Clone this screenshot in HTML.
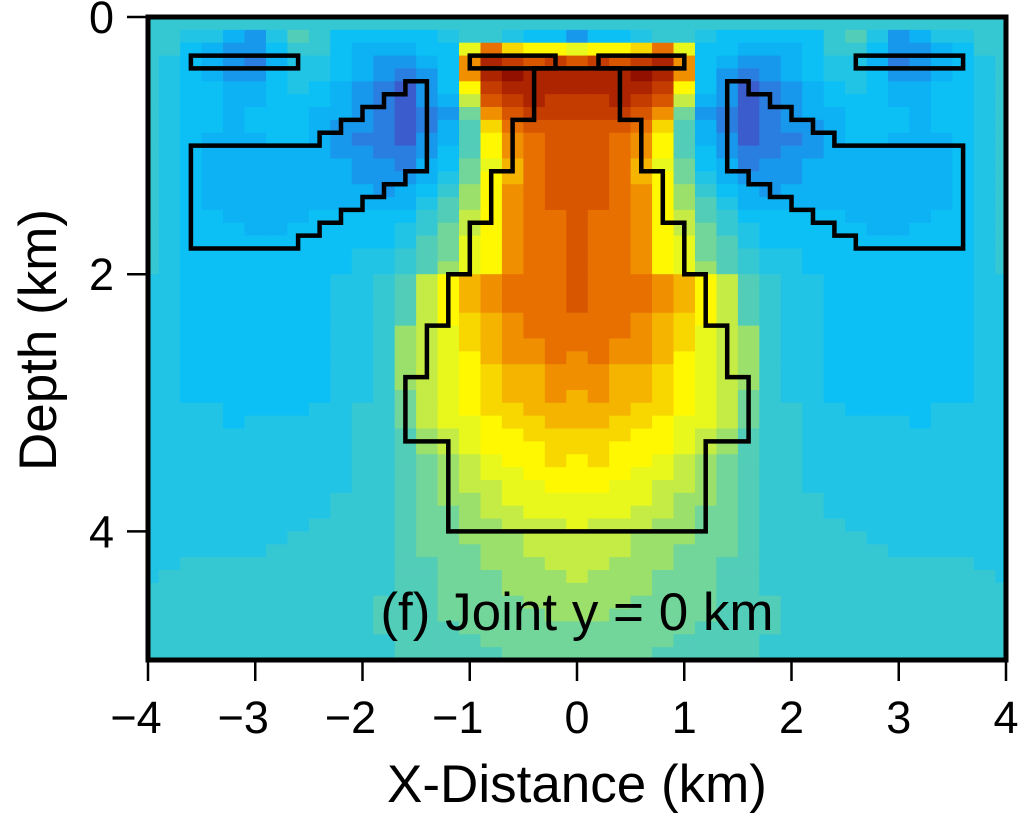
<!DOCTYPE html>
<html><head><meta charset="utf-8">
<style>
html,body{margin:0;padding:0;background:#fff;width:1018px;height:826px;overflow:hidden}
svg text{font-family:"Liberation Sans",Arial,sans-serif;fill:#000}
</style></head>
<body>
<svg id="chart" width="1018" height="826" viewBox="0 0 1018 826" xmlns="http://www.w3.org/2000/svg">
<defs><clipPath id="plotclip"><rect x="148" y="17" width="858" height="643"/></clipPath></defs>
<g id="cells" clip-path="url(#plotclip)"></g>
<g id="outlines" clip-path="url(#plotclip)"></g>
<rect x="148" y="17" width="858" height="643" fill="none" stroke="#000" stroke-width="5"/>
<g id="axes"></g>
<text x="577" y="630" font-size="53" text-anchor="middle">(f) Joint y = 0 km</text>
<text x="577" y="802" font-size="53" text-anchor="middle">X-Distance (km)</text>
<text transform="translate(56,340) rotate(-90)" font-size="53" text-anchor="middle">Depth (km)</text>
</svg>
<script>
// ---- data ----
const xTicks = [-4,-3,-2,-1,0,1,2,3,4];
const yTicks = [0,2,4];
const colCenters = [-4,-3.8,-3.6,-3.4,-3.2,-3,-2.8,-2.6,-2.4,-2.2,-2,-1.8,-1.6,-1.4,-1.2,-1,-0.8,-0.6,-0.4,-0.2,0];
const rowDepthStep = 0.1;
// left half of symmetric section (x=-4..0), one string per 0.1 km depth row; chars are colour levels
const fieldRows = [
"666666666666666666666",
"665532576444445665442",
"664322466433344bgdccb",
"654321355432234fjihih",
"654322455432124fjkjjj",
"654433454321024cijjjj",
"654433444321023ahijii",
"6544344433210128fhiii",
"6544344432210137dghhh",
"6543334432110237cfghh",
"6543333332211247cfghh",
"6543333333221348beghh",
"6543333333222358ceghh",
"6543333333323469cfghh",
"6543333333333579cfghh",
"654433334444467acfggh",
"654443344444568acfggh",
"654444444444578bcfggh",
"654444444455678bcfggh",
"654444444455679bcfggh",
"5544444445567acefgggh",
"5544444445567acefgggh",
"5544444445567acefgggh",
"5544444445567acdefggg",
"5544444445569abdefggg",
"5544444445569abdeffgg",
"5544444445569abceffgf",
"5544444445569abcdeeff",
"5544444445569abcdeeff",
"5544444445568abcdeefe",
"5555444455668abcddeee",
"5555455555668abbcddee",
"55555555556679abccddd",
"55555555556679abcccdd",
"555555555566789abccdc",
"555555555566789abbccc",
"555555555566789aabbcc",
"5555555556667899abbbb",
"5555555556667889aabbb",
"55555555666678899aaab",
"555555566666788999aaa",
"555555666666788899aaa",
"5566666666667788999aa",
"56666666666677888999a",
"666666666666778889999",
"666666666667778888999",
"666666666667778888899",
"666666666667777888888",
"666666666666777788888",
"666666666666777778888"
];
const levelColors = {
"0":"#3a5ccc","1":"#2a7ee0","2":"#1898ec","3":"#0cb2f4","4":"#0cc0f6","5":"#22c4e6","6":"#36c8d2",
"7":"#52cdb8","8":"#72d59a","9":"#9ce06c","a":"#c4ec44","b":"#e8f81c","c":"#fff800","d":"#f8d600",
"e":"#f4b400","f":"#f09000","g":"#e87000","h":"#d85600","i":"#c43c00","j":"#ac2400","k":"#921000"
};
// outline polygons (x km, depth km)
const centralBody = [[-0.4,0.4],[-0.4,0.8],[-0.6,0.8],[-0.6,1.2],[-0.8,1.2],[-0.8,1.6],[-1.0,1.6],[-1.0,2.0],[-1.2,2.0],[-1.2,2.4],[-1.4,2.4],[-1.4,2.8],[-1.6,2.8],[-1.6,3.3],[-1.2,3.3],[-1.2,4.0],[1.2,4.0],[1.2,3.3],[1.6,3.3],[1.6,2.8],[1.4,2.8],[1.4,2.4],[1.2,2.4],[1.2,2.0],[1.0,2.0],[1.0,1.6],[0.8,1.6],[0.8,1.2],[0.6,1.2],[0.6,0.8],[0.4,0.8],[0.4,0.4]];
const leftWing = [[-3.6,1.0],[-2.4,1.0],[-2.4,0.9],[-2.2,0.9],[-2.2,0.8],[-2.0,0.8],[-2.0,0.7],[-1.8,0.7],[-1.8,0.6],[-1.6,0.6],[-1.6,0.5],[-1.4,0.5],[-1.4,1.2],[-1.6,1.2],[-1.6,1.3],[-1.8,1.3],[-1.8,1.4],[-2.0,1.4],[-2.0,1.5],[-2.2,1.5],[-2.2,1.6],[-2.4,1.6],[-2.4,1.7],[-2.6,1.7],[-2.6,1.8],[-3.6,1.8]];
const rightWing = leftWing.map(p=>[-p[0],p[1]]);
const smallBars = [[-3.6,-2.6,0.3,0.4],[-1.0,-0.2,0.3,0.4],[0.2,1.0,0.3,0.4],[2.6,3.6,0.3,0.4]];

// ---- scales ----
const X0=148,X1=1006,Y0=17;
const sx = x => X0 + (x+4)*(X1-X0)/8;
const sy = d => Y0 + d*128.6;
const NS="http://www.w3.org/2000/svg";
const cellsG=document.getElementById('cells');
const dx=0.2;
for(let r=0;r<fieldRows.length;r++){
  const s=fieldRows[r];
  const nHalf=colCenters.length;
  for(let j=0;j<2*nHalf-1;j++){
    const k = j<nHalf ? j : 2*(nHalf-1)-j;
    const xc = j<nHalf ? colCenters[k] : -colCenters[k];
    const rect=document.createElementNS(NS,'rect');
    const x1=sx(xc-dx/2), x2=sx(xc+dx/2);
    const y1=sy(r*rowDepthStep), y2=sy((r+1)*rowDepthStep);
    rect.setAttribute('x',x1.toFixed(2));
    rect.setAttribute('y',y1.toFixed(2));
    rect.setAttribute('width',(x2-x1+0.6).toFixed(2));
    rect.setAttribute('height',(y2-y1+0.6).toFixed(2));
    rect.setAttribute('fill',levelColors[s[k]]);
    
    
    cellsG.appendChild(rect);
  }
}
const outG=document.getElementById('outlines');
function addPoly(pts,name){
  const p=document.createElementNS(NS,'polygon');
  p.setAttribute('points',pts.map(q=>sx(q[0]).toFixed(1)+','+sy(q[1]).toFixed(1)).join(' '));
  p.setAttribute('fill','none');p.setAttribute('stroke','#000');p.setAttribute('stroke-width','4.5');
  p.setAttribute('stroke-linejoin','miter');
  
  
  outG.appendChild(p);
}
addPoly(centralBody,'central-body-outline');
addPoly(leftWing,'left-wing-outline');
addPoly(rightWing,'right-wing-outline');
smallBars.forEach(b=>{
  addPoly([[b[0],b[2]],[b[1],b[2]],[b[1],b[3]],[b[0],b[3]]],'shallow-bar-outline');
});
const axG=document.getElementById('axes');
xTicks.forEach(t=>{
  const l=document.createElementNS(NS,'line');
  l.setAttribute('x1',sx(t));l.setAttribute('x2',sx(t));l.setAttribute('y1',660);l.setAttribute('y2',681);
  l.setAttribute('stroke','#000');l.setAttribute('stroke-width','2.5');
  
  
  axG.appendChild(l);
  const tx=document.createElementNS(NS,'text');
  tx.setAttribute('x',sx(t)-(t<0?12:0));tx.setAttribute('y',733);tx.setAttribute('font-size','45');tx.setAttribute('text-anchor','middle');
  tx.textContent=(t<0?'\u2212'+(-t):String(t));
  
  
  axG.appendChild(tx);
});
yTicks.forEach(t=>{
  const l=document.createElementNS(NS,'line');
  l.setAttribute('x1',127);l.setAttribute('x2',148);l.setAttribute('y1',sy(t));l.setAttribute('y2',sy(t));
  l.setAttribute('stroke','#000');l.setAttribute('stroke-width','2.5');
  
  
  axG.appendChild(l);
  const tx=document.createElementNS(NS,'text');
  tx.setAttribute('x',114);tx.setAttribute('y',sy(t)+16);tx.setAttribute('font-size','45');tx.setAttribute('text-anchor','end');
  tx.textContent=String(t);
  
  
  axG.appendChild(tx);
});
</script>
</body></html>
